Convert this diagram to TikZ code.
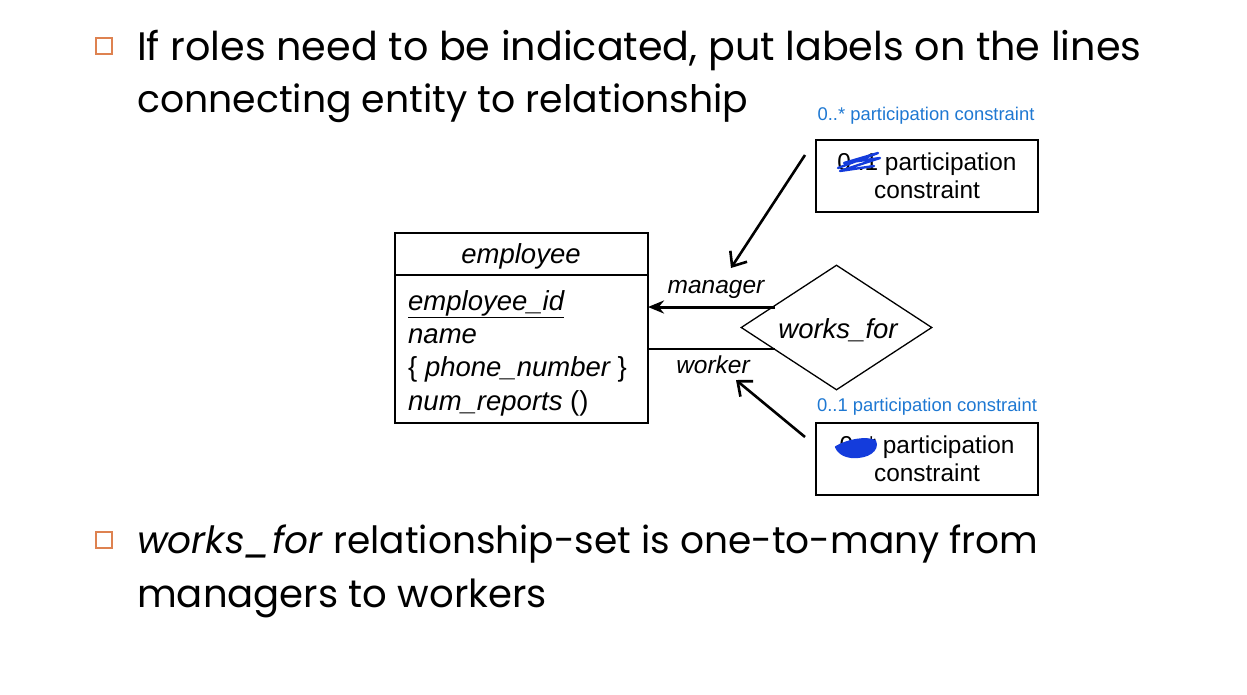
\documentclass[tikz,border=0pt]{standalone}
\usepackage{fontspec}
\setmainfont{Poppins}
\newfontfamily\arialfont{Liberation Sans}
\usetikzlibrary{arrows.meta,shapes.geometric}
\definecolor{bulletorange}{RGB}{222,130,80}
\definecolor{noteblue}{RGB}{30,120,210}
\definecolor{scribble}{RGB}{20,60,220}
\tikzset{
  bulletbox/.style={draw=bulletorange,line width=1.6pt,minimum size=16pt,inner sep=0pt},
  slidetext/.style={anchor=base west,inner sep=0pt,font=\fontsize{#1}{44}\selectfont},
  er/.style={font=\arialfont\fontsize{27.5}{32}\selectfont},
  attr/.style={er,anchor=base west,inner sep=0pt},
  notebox/.style={draw,line width=2.4pt,minimum width=222pt,minimum height=72pt,align=center,
    font=\arialfont\fontsize{24.4}{28.5}\selectfont,inner sep=0pt},
  notelabel/.style={text=noteblue,font=\arialfont\fontsize{18.4}{20}\selectfont,inner sep=0pt},
  rolelabel/.style={font=\arialfont\itshape\fontsize{24.5}{28}\selectfont,inner sep=0pt},
  pointer/.style={line width=2.6pt,-{Straight Barb[length=12pt,width=20pt,line width=2.6pt]}},
  roleline/.style={line width=1.6pt},
  rolearrow/.style={line width=3pt,-{Stealth[length=16pt,width=13pt]}},
}
\begin{document}
\begin{tikzpicture}[x=1pt,y=-1pt]
\useasboundingbox (0,0) rectangle (1247,694);

% bullet points
\node[bulletbox] (b1) at (104,46) {};
\node[slidetext=39.7] (t1) at (137,60) {If roles need to be indicated, put labels on the lines};
\node[slidetext=37.8] (t2) at (137,112) {connecting entity to relationship};
\node[bulletbox] (b2) at (104,540) {};
\node[slidetext=37.5] (t3) at (137,553) {\textit{works\_for} relationship-set is one-to-many from};
\node[slidetext=38.6] (t4) at (137,607) {managers to workers};

% entity box
\draw[line width=1.3pt] (395,233) rectangle (648,423);
\draw[line width=1.3pt] (395,275) -- (648,275);
\coordinate (ent-mgr) at (648,307);
\coordinate (ent-wrk) at (648,349);
\node[er] (ename) at (521,256) {\itshape employee};
\node[attr] (a1) at (408,310) {\itshape\underline{employee\_id}};
\node[attr] (a2) at (408,343) {\itshape name};
\node[attr] (a3) at (408,376) {\{ \itshape phone\_number\upshape\ \}};
\node[attr] (a4) at (408,410) {\itshape num\_reports \upshape()};

% relationship
\node[draw,line width=1.3pt,diamond,aspect=1.53,minimum width=191pt,minimum height=125pt,inner sep=0pt] (rel) at (836.5,327.5) {};
\node[er] (reltext) at (838,330) {\itshape works\_for};
\coordinate (rel-mgr) at (775,307);
\coordinate (rel-wrk) at (775,349);
\draw[rolearrow] (rel-mgr) -- (ent-mgr);
\draw[roleline] (ent-wrk) -- (rel-wrk);
\node[rolelabel] (lmgr) at (716,289) {manager};
\node[rolelabel] (lwrk) at (713,365) {worker};

% participation notes
\node[notebox] (n1) at (927,176) {0..1 participation\\constraint};
\node[notebox] (n2) at (927,459) {0..* participation\\constraint};
\node[notelabel] (l1) at (926,116) {0..* participation constraint};
\node[notelabel] (l2) at (927,407) {0..1 participation constraint};
\draw[scribble,line width=2.4pt,line cap=round,line join=round]
  (838,168) -- (878,153) -- (844,163) -- (880,158) -- (840,171) -- (874,166);
\draw[scribble,line width=2.2pt,line cap=round,line join=round,fill=scribble]
  (836,447) .. controls (848,440) and (866,437) .. (875,441)
  .. controls (879,450) and (868,458) .. (852,457) .. controls (843,456) and (838,452) .. (836,447) -- cycle;

\coordinate (p1) at (805,155);
\coordinate (p2) at (805,437);
\draw[pointer] (p1) -- (731,268);
\draw[pointer] (p2) -- (736,380);
\end{tikzpicture}
\end{document}
